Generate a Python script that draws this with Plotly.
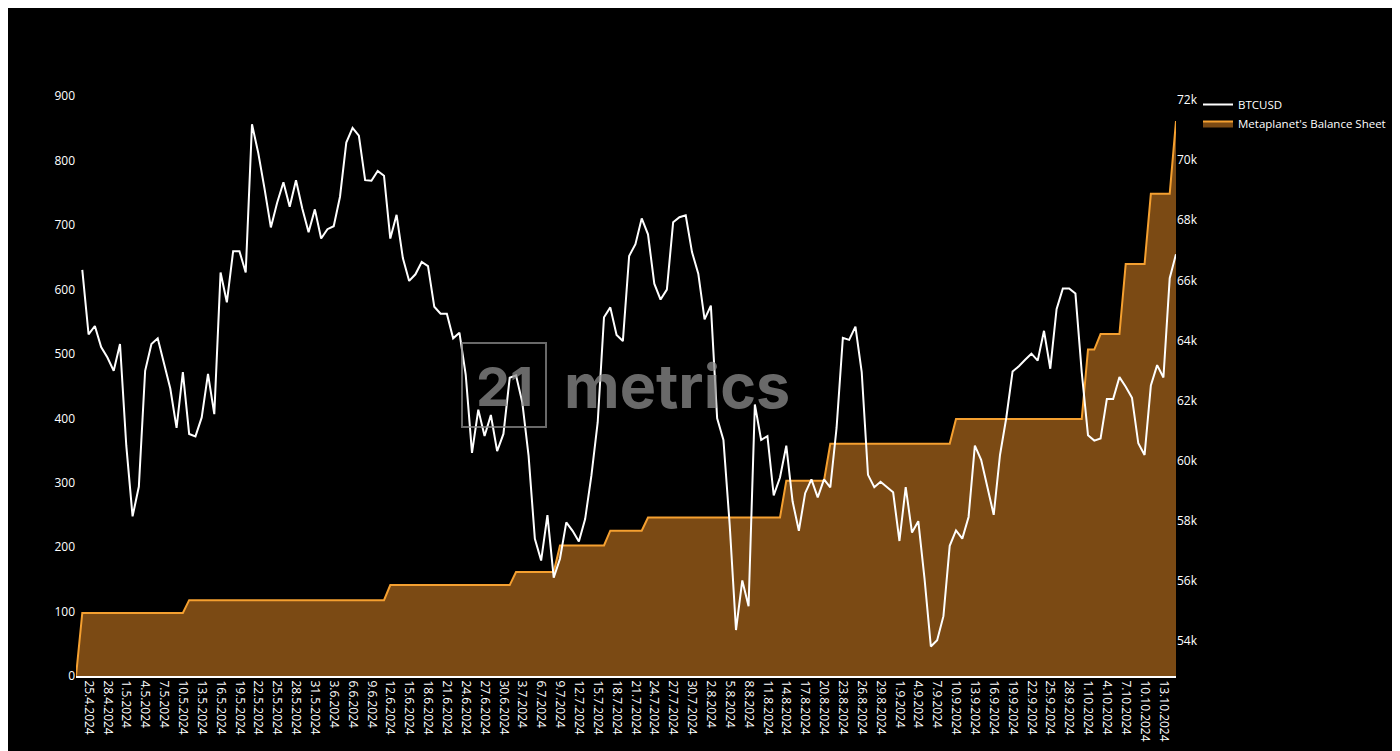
import pandas as pd
import plotly.graph_objects as go

start_date = "2024-04-23"
end_date = "2024-10-15"

# BTCUSD daily close (k USD) from 24.4.2024 to 15.10.2024
btc_k = [66.35, 64.20, 64.48, 63.78, 63.43, 62.99, 63.88, 60.50, 58.15, 59.14,
         62.99, 63.88, 64.07, 63.26, 62.40, 61.09, 62.95, 60.89, 60.81, 61.44,
         62.89, 61.55, 66.26, 65.27, 66.97, 66.97, 66.26, 71.19, 70.23, 69.04,
         67.76, 68.58, 69.26, 68.45, 69.33, 68.39, 67.60, 68.36, 67.39, 67.70,
         67.80, 68.78, 70.58, 71.07, 70.81, 69.33, 69.31, 69.64, 69.48, 67.39,
         68.18, 66.74, 65.98, 66.20, 66.61, 66.47, 65.12, 64.89, 64.89, 64.07,
         64.26, 62.86, 60.26, 61.70, 60.82, 61.52, 60.32, 60.89, 62.76, 62.84,
         61.94, 60.17, 57.40, 56.68, 58.19, 56.11, 56.74, 57.95, 57.67, 57.31,
         58.06, 59.51, 61.28, 64.77, 65.10, 64.18, 63.98, 66.81, 67.20, 68.06,
         67.53, 65.89, 65.36, 65.69, 67.93, 68.10, 68.16, 66.94, 66.22, 64.70,
         65.16, 61.41, 60.69, 57.86, 54.37, 56.02, 55.16, 61.87, 60.69, 60.82,
         58.85, 59.44, 60.50, 58.65, 57.67, 58.92, 59.38, 58.78, 59.38, 59.11,
         61.09, 64.09, 64.02, 64.46, 62.95, 59.53, 59.12, 59.30, 59.12, 58.95,
         57.33, 59.12, 57.61, 57.99, 56.06, 53.82, 54.03, 54.83, 57.17, 57.68,
         57.41, 58.13, 60.50, 60.03, 59.12, 58.20, 60.19, 61.43, 62.97, 63.14,
         63.36, 63.56, 63.33, 64.32, 63.06, 65.04, 65.73, 65.73, 65.56, 62.95,
         60.85, 60.67, 60.74, 62.05, 62.05, 62.78, 62.46, 62.09, 60.58, 60.19,
         62.50, 63.18, 62.77, 66.07, 66.87]

# Metaplanet BTC holdings: date from which each holding applies
holding_dates = ["2024-04-23", "2024-04-24", "2024-05-11", "2024-06-12", "2024-07-02",
                 "2024-07-09", "2024-07-17", "2024-07-23", "2024-08-14", "2024-08-21",
                 "2024-09-10", "2024-10-01", "2024-10-03", "2024-10-07", "2024-10-11",
                 "2024-10-15"]
holdings = [0, 97.85, 117.72, 141.07, 161.27, 202.73, 225.61, 245.99, 303.09,
            360.37, 398.83, 506.74, 530.71, 639.50, 748.50, 861.39]

tick_start = "2024-04-25"
tick_end = "2024-10-13"

dates = pd.date_range(start_date, end_date, freq="D")
hold_series = pd.Series(holdings, index=pd.to_datetime(holding_dates)).reindex(dates).ffill()
btc_dates = dates[1:]
btc_vals = [v * 1000 for v in btc_k]

tickvals = pd.date_range(tick_start, tick_end, freq="3D")
ticktext = [f"{d.day}.{d.month}.{d.year}" for d in tickvals]

fig = go.Figure()
fig.add_trace(go.Scatter(x=btc_dates, y=btc_vals, name="BTCUSD", mode="lines",
                         line=dict(color="white", width=2), yaxis="y2"))
fig.add_trace(go.Scatter(x=dates, y=hold_series.values, name="Metaplanet's Balance Sheet",
                         mode="lines", fill="tozeroy", fillcolor="#7b4a14",
                         line=dict(color="#f5a030", width=2), yaxis="y"))

fig.update_layout(
    width=1400, height=751,
    paper_bgcolor="black", plot_bgcolor="black",
    font=dict(family="Open Sans", color="white", size=12),
    margin=dict(l=68, r=232, t=82, b=83),
    showlegend=True,
    legend=dict(x=1.02, y=1.0, xanchor="left", yanchor="top",
                bgcolor="rgba(0,0,0,0)", font=dict(size=11.5, color="white")),
    xaxis=dict(type="date", range=[dates[0], dates[-1]], tickvals=tickvals,
               ticktext=ticktext, tickangle=90, showgrid=False, zeroline=False,
               showline=True, linecolor="white", linewidth=2,
               tickfont=dict(size=12, color="white")),
    yaxis=dict(range=[0, 909.6], tickvals=[0, 100, 200, 300, 400, 500, 600, 700, 800, 900],
               showgrid=False, zeroline=False, tickfont=dict(size=12, color="white")),
    yaxis2=dict(range=[52840, 72330], overlaying="y", side="right",
                tickvals=[54000, 56000, 58000, 60000, 62000, 64000, 66000, 68000, 70000, 72000],
                ticktext=["54k", "56k", "58k", "60k", "62k", "64k", "66k", "68k", "70k", "72k"],
                showgrid=False, zeroline=False, tickfont=dict(size=12, color="white")),
)

fig.add_shape(type="rect", xref="paper", yref="paper",
              x0=(462 - 76) / 1100, x1=(546 - 76) / 1100,
              y0=(676 - 427) / 586, y1=(676 - 343) / 586,
              line=dict(color="rgba(140,140,140,0.75)", width=2),
              fillcolor="rgba(0,0,0,0)")
fig.add_annotation(xref="paper", yref="paper", x=(504 - 76) / 1100, y=(676 - 386) / 586,
                   text="<b>21</b>", showarrow=False,
                   font=dict(size=54, color="rgba(140,140,140,0.75)", family="Inter"))
fig.add_annotation(xref="paper", yref="paper", x=(677 - 76) / 1100, y=(676 - 386) / 586,
                   text="<b>metrics</b>", showarrow=False,
                   font=dict(size=61, color="rgba(140,140,140,0.75)", family="Inter"))

fig.write_html("out.html")
